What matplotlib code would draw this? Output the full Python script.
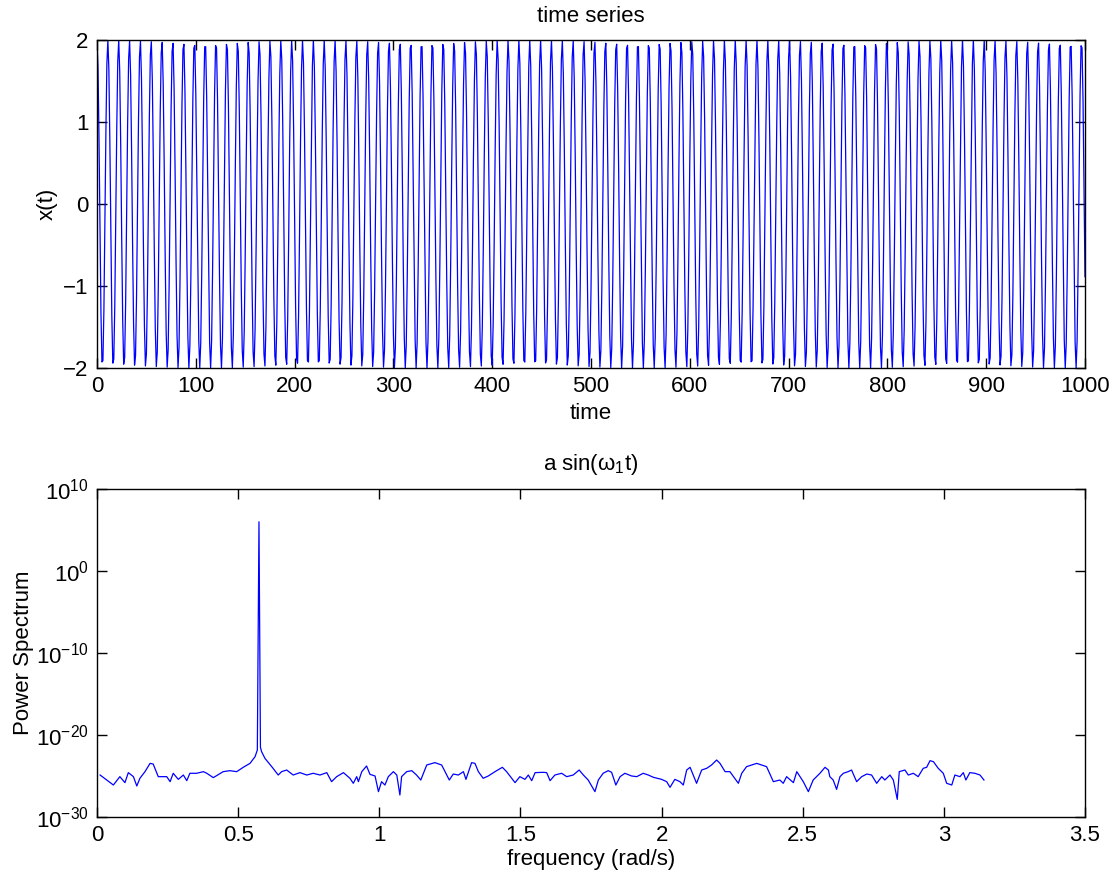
import numpy as np
import matplotlib
matplotlib.use('Agg')
import matplotlib.pyplot as plt

plt.rcParams['font.family'] = ['Liberation Sans', 'DejaVu Sans']
plt.rcParams['mathtext.fontset'] = 'custom'
plt.rcParams['mathtext.rm'] = 'Liberation Sans'
plt.rcParams['mathtext.it'] = 'Liberation Sans:italic'
plt.rcParams['font.size'] = 16

amp = 2.0
omega1 = 0.5738
t = np.arange(0, 1001)
x = amp * np.cos(omega1 * t)

# power spectrum (frequency in rad/s, log10 of power)
freq = [0.011, 0.058, 0.081, 0.099, 0.111, 0.129, 0.141, 0.152, 0.170, 0.188,
        0.199, 0.217, 0.247, 0.259, 0.270, 0.288, 0.306, 0.318, 0.329, 0.353,
        0.377, 0.389, 0.412, 0.447, 0.471, 0.495, 0.518, 0.542, 0.560, 0.568,
        0.5738, 0.5790, 0.583, 0.595, 0.619, 0.642, 0.654, 0.672, 0.695, 0.719,
        0.743, 0.766, 0.790, 0.814, 0.831, 0.849, 0.873, 0.896, 0.908, 0.920,
        0.926, 0.938, 0.955, 0.967, 0.985, 0.997, 1.008, 1.020, 1.032, 1.050,
        1.062, 1.073, 1.079, 1.097, 1.115, 1.132, 1.147, 1.168, 1.197, 1.221,
        1.233, 1.248, 1.262, 1.280, 1.298, 1.307, 1.327, 1.339, 1.351, 1.368,
        1.386, 1.410, 1.436, 1.451, 1.481, 1.498, 1.516, 1.528, 1.540, 1.552,
        1.581, 1.593, 1.605, 1.622, 1.646, 1.664, 1.687, 1.708, 1.723, 1.740,
        1.764, 1.776, 1.793, 1.811, 1.823, 1.838, 1.853, 1.870, 1.894, 1.912,
        1.935, 1.953, 1.971, 2.000, 2.018, 2.030, 2.047, 2.065, 2.077, 2.089,
        2.101, 2.124, 2.142, 2.160, 2.177, 2.195, 2.207, 2.225, 2.242, 2.272,
        2.284, 2.301, 2.337, 2.372, 2.396, 2.419, 2.431, 2.443, 2.467, 2.479,
        2.502, 2.520, 2.537, 2.549, 2.561, 2.579, 2.591, 2.596, 2.608, 2.620,
        2.632, 2.644, 2.661, 2.673, 2.691, 2.709, 2.727, 2.744, 2.762, 2.780,
        2.791, 2.809, 2.821, 2.835, 2.842, 2.862, 2.874, 2.892, 2.909, 2.927,
        2.939, 2.951, 2.963, 2.980, 2.998, 3.010, 3.028, 3.039, 3.057, 3.069,
        3.078, 3.092, 3.110, 3.128, 3.142]
logpow = [-24.88, -26.10, -25.08, -25.81, -24.59, -25.08, -26.22, -25.28, -24.47, -23.46,
          -23.54, -25.08, -25.08, -25.69, -24.67, -25.41, -24.88, -25.57, -24.67, -24.67,
          -24.47, -24.67, -25.20, -24.47, -24.35, -24.47, -23.94, -23.46, -22.64, -21.83,
          6.0, -21.5, -22.03, -22.85, -23.86, -24.88, -24.47, -24.27, -24.88, -24.59,
          -24.88, -24.67, -24.88, -24.59, -25.69, -25.08, -24.59, -25.28, -25.89, -25.08,
          -25.69, -24.47, -23.78, -24.80, -25.00, -26.91, -25.69, -26.10, -25.08, -24.47,
          -24.88, -27.32, -25.08, -24.47, -24.35, -24.88, -25.49, -23.66, -23.37, -23.66,
          -24.47, -25.49, -24.76, -24.88, -24.47, -25.41, -23.37, -23.46, -24.47, -25.28,
          -25.00, -24.47, -23.94, -24.47, -25.81, -25.08, -25.41, -24.88, -25.57, -24.59,
          -24.55, -24.59, -25.57, -24.88, -24.67, -25.08, -24.88, -24.27, -24.88, -25.49,
          -26.91, -25.49, -24.67, -24.35, -24.55, -26.10, -25.08, -24.67, -25.00, -25.08,
          -24.67, -24.88, -25.16, -25.41, -25.69, -26.38, -25.41, -25.69, -26.10, -24.27,
          -23.94, -25.89, -24.27, -24.06, -23.66, -23.05, -23.46, -24.47, -24.47, -25.89,
          -24.67, -23.86, -23.46, -23.86, -25.69, -25.49, -25.89, -25.08, -25.81, -24.47,
          -25.69, -26.91, -25.49, -25.08, -24.67, -23.94, -24.27, -25.08, -25.49, -26.63,
          -25.08, -24.67, -24.47, -24.27, -25.69, -25.08, -24.76, -24.88, -25.89, -25.08,
          -25.49, -24.88, -25.49, -27.85, -24.47, -24.27, -24.88, -24.67, -25.08, -24.06,
          -23.94, -23.13, -23.25, -24.06, -24.67, -25.89, -26.10, -24.88, -25.08, -24.59,
          -25.49, -24.59, -24.67, -24.88, -25.49]

xticks_top = [0, 100, 200, 300, 400, 500, 600, 700, 800, 900, 1000]
yticks_top = [-2, -1, 0, 1, 2]
xticks_bot = [0, 0.5, 1, 1.5, 2, 2.5, 3, 3.5]
xticklabels_bot = ['0', '0.5', '1', '1.5', '2', '2.5', '3', '3.5']
yticks_bot = [1e-30, 1e-20, 1e-10, 1e0, 1e10]

fig = plt.figure(figsize=(11.17, 8.84), dpi=100)
ax1 = fig.add_axes([97/1117, 1-368/884, 988/1117, 328/884])
ax2 = fig.add_axes([97/1117, 1-817/884, 988/1117, 328/884])

ax1.plot(t, x, color='#0000ff', lw=0.9)
ax1.set_xlim(0, 1000)
ax1.set_ylim(-2, 2)
ax1.set_xticks(xticks_top)
ax1.set_yticks(yticks_top)
ax1.set_title('time series', fontsize=16, pad=13)
ax1.set_xlabel('time', labelpad=4)
ax1.set_ylabel('x(t)', labelpad=4)

ax2.semilogy(freq, 10.0 ** np.array(logpow), color='#0000ff', lw=0.9)
ax2.set_xlim(0, 3.5)
ax2.set_ylim(1e-30, 1e10)
ax2.set_xticks(xticks_bot)
ax2.set_xticklabels(xticklabels_bot)
ax2.set_yticks(yticks_bot)
ax2.minorticks_off()
ax2.set_title('a sin(ω$_1$t)', fontsize=16, pad=14)
ax2.set_xlabel('frequency (rad/s)', labelpad=2)
ax2.set_ylabel('Power Spectrum', labelpad=1)

for ax in (ax1, ax2):
    ax.tick_params(direction='in', top=True, right=True, length=7, width=1,
                   pad=6, labelsize=16)
    for s in ax.spines.values():
        s.set_linewidth(1.0)

fig.savefig('out.png', dpi=100)
